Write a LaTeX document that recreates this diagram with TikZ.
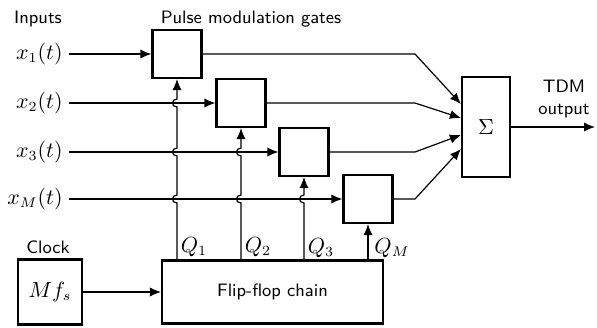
\documentclass[tikz,border=0pt]{standalone}
\usetikzlibrary{arrows.meta,calc}
\begin{document}
\begin{tikzpicture}[x=0.5pt,y=-0.5pt,
    blk/.style={draw, line width=1.1pt, minimum width=24.5pt, minimum height=24pt, inner sep=0pt},
    sig/.style={line width=0.6pt},
    arr/.style={sig, -{Latex[length=5.5pt,width=4.6pt]}},
    lbl/.style={font=\sffamily\small, inner sep=1pt},
    mlbl/.style={font=\fontsize{10.5}{12}\selectfont, inner sep=1pt}]
  \useasboundingbox (0,0) rectangle (597,327);

  % gates, summer, flip-flops, clock
  \node[blk] (g1) at (177,54)  {};
  \node[blk] (g2) at (241,103) {};
  \node[blk] (g3) at (304,152) {};
  \node[blk] (gM) at (368,199) {};
  \node[blk, minimum width=24pt, minimum height=50pt, mlbl] (sum) at (486,127) {$\Sigma$};
  \node[blk, minimum width=110.5pt, minimum height=31.5pt, font=\sffamily\small] (ff) at (272.5,292) {Flip-flop chain};
  \node[blk, minimum width=32pt, minimum height=32.5pt, mlbl] (clk) at (50,292) {$Mf_s$};

  % labels
  \node[lbl] (tin) at (38,19) {Inputs};
  \node[lbl] (tgate) at (251,19) {Pulse modulation gates};
  \node[lbl] (tclk) at (48,247) {Clock};
  \node[lbl, align=center] (tout) at (564,99) {TDM\\output};
  \node[mlbl] (q1) at (194,247) {$Q_1$};
  \node[mlbl] (q2) at (258,247) {$Q_2$};
  \node[mlbl] (q3) at (321,248) {$Q_3$};
  \node[mlbl] (qM) at (392,248) {$Q_M$};

  % inputs
  \foreach \i/\yy in {1/54,2/103,3/152,M/199} {
    \coordinate (i\i) at (69,\yy);
    \node[mlbl, anchor=east] at ($(i\i)+(-4,0)$) {$x_{\i}(t)$};
    \draw[arr] (i\i) -- (g\i.west);
  }

  % clock lines with hops
  \draw[arr] (g1 |- ff.north)
    -- ($(g1 |- iM)+(0,4)$) .. controls +(-6,0) and +(-6,0) .. ++(0,-8)
    -- ($(g1 |- i3)+(0,4)$) .. controls +(-6,0) and +(-6,0) .. ++(0,-8)
    -- ($(g1 |- i2)+(0,4)$) .. controls +(-6,0) and +(-6,0) .. ++(0,-8)
    -- (g1.south);
  \draw[arr] (g2 |- ff.north)
    -- ($(g2 |- iM)+(0,4)$) .. controls +(-6,0) and +(-6,0) .. ++(0,-8)
    -- ($(g2 |- i3)+(0,4)$) .. controls +(-6,0) and +(-6,0) .. ++(0,-8)
    -- (g2.south);
  \draw[arr] (g3 |- ff.north)
    -- ($(g3 |- iM)+(0,4)$) .. controls +(-6,0) and +(-6,0) .. ++(0,-8)
    -- (g3.south);
  \draw[arr] (gM |- ff.north) -- (gM.south);

  % gate outputs to summer
  \coordinate (kink) at (415,0);
  \foreach \i/\dy in {1/-23,2/-9,3/8,M/22}
    \draw[arr] (g\i.east) -- (g\i.east -| kink) -- ($(sum.west)+(0,\dy)$);

  \coordinate (out) at (595,0);
  \draw[arr] (sum.east) -- (sum.east -| out);
  \draw[arr] (clk.east) -- (ff.west);
\end{tikzpicture}
\end{document}
